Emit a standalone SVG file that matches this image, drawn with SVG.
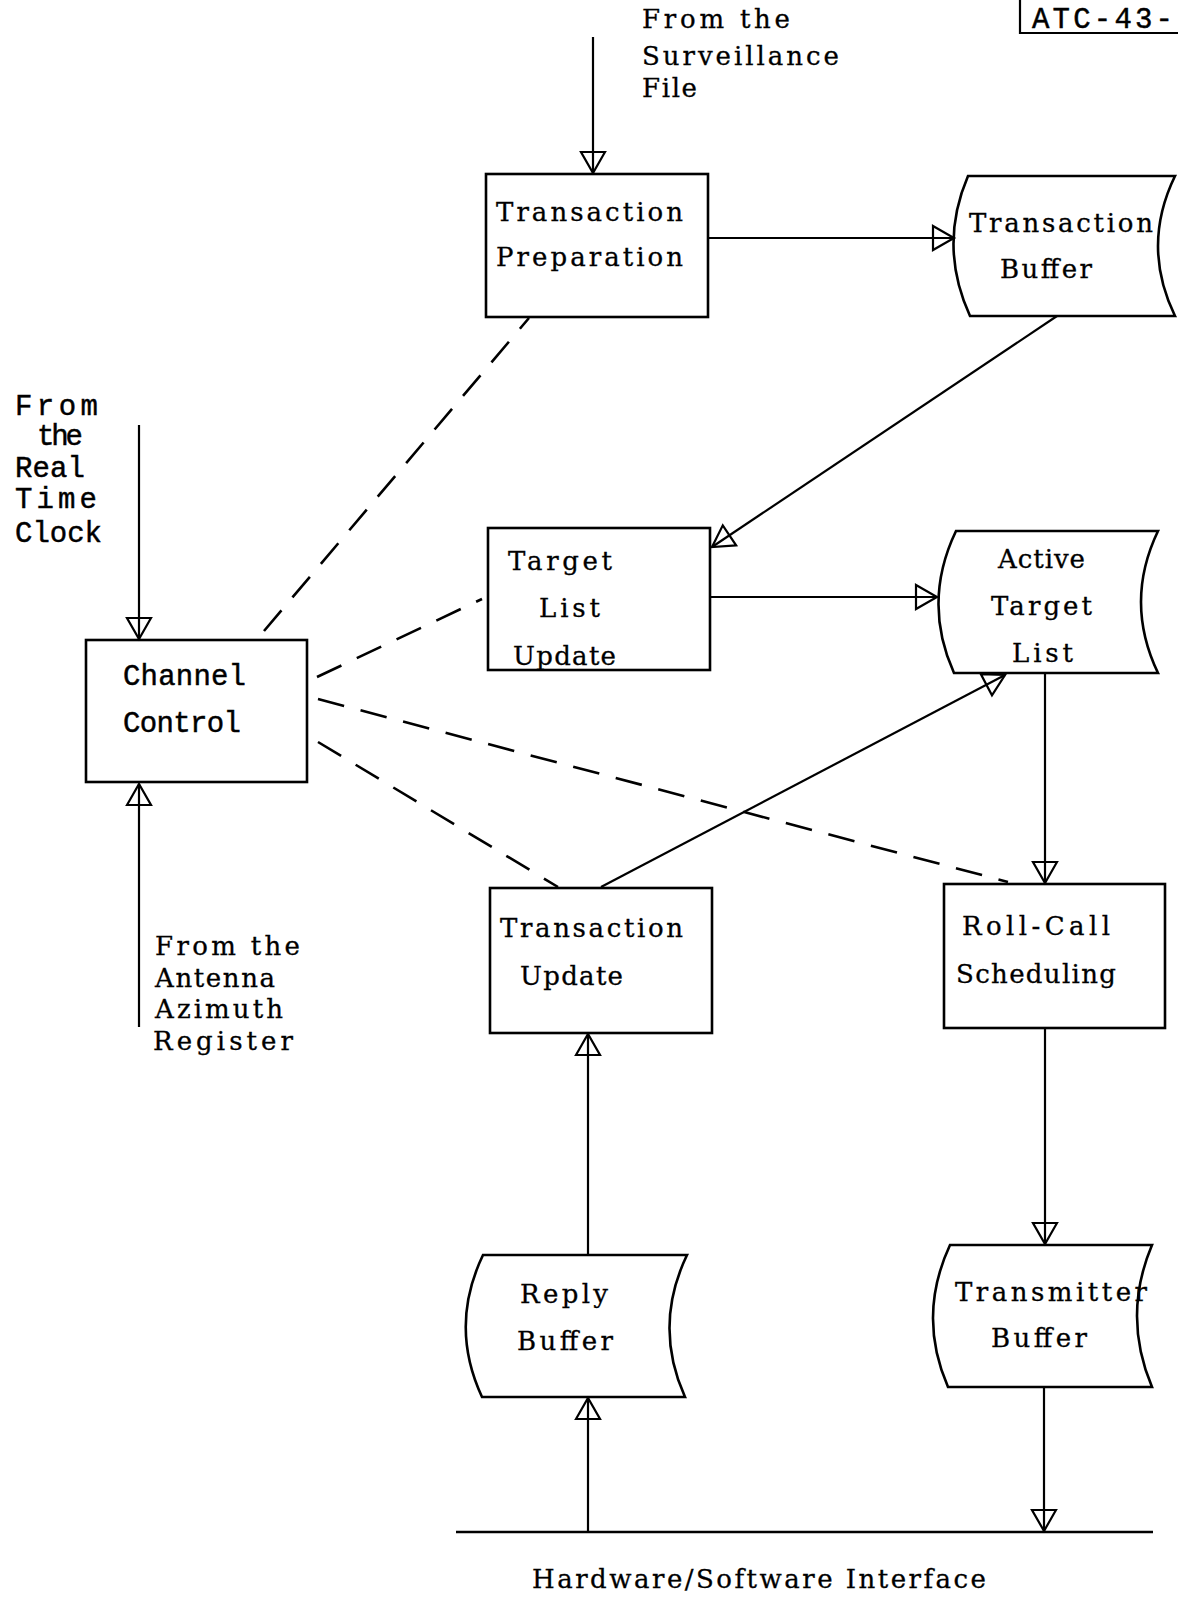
<svg xmlns="http://www.w3.org/2000/svg" width="1178" height="1602" viewBox="0 0 1178 1602">
<style>
.bg{fill:#fff}
.box{fill:none;stroke:#000;stroke-width:2.6}
.ln{fill:none;stroke:#000;stroke-width:2.2}
.dash{fill:none;stroke:#000;stroke-width:2.6;stroke-dasharray:27 17}
.s{font-family:"DejaVu Serif","Liberation Serif",serif;font-size:26px;fill:#000;stroke:#000;stroke-width:0.3}
.m{font-family:"Liberation Mono","Courier New",monospace;font-size:29px;fill:#000;stroke:#000;stroke-width:0.45}
</style>
<defs>
<marker id="arr" markerUnits="userSpaceOnUse" viewBox="-26 -15 30 30" refX="0" refY="0" markerWidth="30" markerHeight="30" orient="auto" overflow="visible">
<path d="M-21,-12 L0,0 L-21,12 Z" fill="none" stroke="#000" stroke-width="2.2"/>
</marker>
</defs>
<rect class="bg" x="0" y="0" width="1178" height="1602"/>

<g id="doc-label">
<path class="ln" d="M1020,0 V33 H1178"/>
<text class="m" x="1032" y="28" textLength="141" lengthAdjust="spacing">ATC-43-</text>
</g>

<g id="connectors">
<line class="ln" x1="593" y1="37" x2="593" y2="173" marker-end="url(#arr)"/>
<line class="ln" x1="139" y1="425" x2="139" y2="639" marker-end="url(#arr)"/>
<line class="ln" x1="139" y1="1027" x2="139" y2="784" marker-end="url(#arr)"/>
<line class="ln" x1="708" y1="238" x2="954" y2="238" marker-end="url(#arr)"/>
<line class="ln" x1="1057" y1="316" x2="712" y2="547" marker-end="url(#arr)"/>
<line class="ln" x1="710" y1="597" x2="937" y2="597" marker-end="url(#arr)"/>
<line class="ln" x1="601" y1="887" x2="1005" y2="675" marker-end="url(#arr)"/>
<line class="ln" x1="1045" y1="673" x2="1045" y2="883" marker-end="url(#arr)"/>
<line class="ln" x1="1045" y1="1028" x2="1045" y2="1244" marker-end="url(#arr)"/>
<line class="ln" x1="1044" y1="1387" x2="1044" y2="1531" marker-end="url(#arr)"/>
<line class="ln" x1="588" y1="1532" x2="588" y2="1398" marker-end="url(#arr)"/>
<line class="ln" x1="588" y1="1255" x2="588" y2="1034" marker-end="url(#arr)"/>
<line class="dash" x1="264" y1="631" x2="529" y2="318"/>
<line class="dash" x1="317" y1="677" x2="482" y2="599"/>
<line class="dash" x1="318" y1="699" x2="1008" y2="882"/>
<line class="dash" x1="318" y1="742" x2="558" y2="887"/>
</g>

<g id="surveillance-label">
<text class="s" x="642" y="28" textLength="148" lengthAdjust="spacing">From the</text>
<text class="s" x="642" y="65" textLength="197" lengthAdjust="spacing">Surveillance</text>
<text class="s" x="642" y="97" textLength="55" lengthAdjust="spacing">File</text>
</g>

<g id="transaction-preparation">
<rect class="box" x="486" y="174" width="222" height="143"/>
<text class="s" x="496" y="221" textLength="187" lengthAdjust="spacing">Transaction</text>
<text class="s" x="496" y="266" textLength="187" lengthAdjust="spacing">Preparation</text>
</g>

<g id="transaction-buffer">
<path class="box" d="M968,176 H1175 Q1141,246 1175,316 H970 Q938,246 968,176 Z"/>
<text class="s" x="969" y="232" textLength="184" lengthAdjust="spacing">Transaction</text>
<text class="s" x="1000" y="278" textLength="92" lengthAdjust="spacing">Buffer</text>
</g>

<g id="rtc-label">
<text class="m" x="15" y="415" textLength="83" lengthAdjust="spacing">From</text>
<text class="m" x="37" y="445" textLength="46" lengthAdjust="spacing">the</text>
<text class="m" x="15" y="477" textLength="70" lengthAdjust="spacing">Real</text>
<text class="m" x="15" y="508" textLength="82" lengthAdjust="spacing">Time</text>
<text class="m" x="15" y="542" textLength="87" lengthAdjust="spacing">Clock</text>
</g>

<g id="channel-control">
<rect class="box" x="86" y="640" width="221" height="142"/>
<text class="m" x="123" y="685" textLength="123" lengthAdjust="spacing">Channel</text>
<text class="m" x="123" y="732" textLength="118" lengthAdjust="spacing">Control</text>
</g>

<g id="antenna-label">
<text class="s" x="155" y="955" textLength="145" lengthAdjust="spacing">From the</text>
<text class="s" x="155" y="987" textLength="120" lengthAdjust="spacing">Antenna</text>
<text class="s" x="155" y="1018" textLength="128" lengthAdjust="spacing">Azimuth</text>
<text class="s" x="153" y="1050" textLength="140" lengthAdjust="spacing">Register</text>
</g>

<g id="target-list-update">
<rect class="box" x="488" y="528" width="222" height="142"/>
<text class="s" x="508" y="570" textLength="104" lengthAdjust="spacing">Target</text>
<text class="s" x="539" y="617" textLength="61" lengthAdjust="spacing">List</text>
<text class="s" x="513" y="665" textLength="103" lengthAdjust="spacing">Update</text>
</g>

<g id="active-target-list">
<path class="box" d="M956,531 H1158 Q1124,602 1158,673 H954 Q922,602 956,531 Z"/>
<text class="s" x="998" y="568" textLength="87" lengthAdjust="spacing">Active</text>
<text class="s" x="991" y="615" textLength="101" lengthAdjust="spacing">Target</text>
<text class="s" x="1012" y="662" textLength="61" lengthAdjust="spacing">List</text>
</g>

<g id="transaction-update">
<rect class="box" x="490" y="888" width="222" height="145"/>
<text class="s" x="500" y="937" textLength="183" lengthAdjust="spacing">Transaction</text>
<text class="s" x="520" y="985" textLength="103" lengthAdjust="spacing">Update</text>
</g>

<g id="roll-call-scheduling">
<rect class="box" x="944" y="884" width="221" height="144"/>
<text class="s" x="962" y="935" textLength="148" lengthAdjust="spacing">Roll-Call</text>
<text class="s" x="956" y="983" textLength="160" lengthAdjust="spacing">Scheduling</text>
</g>

<g id="reply-buffer">
<path class="box" d="M483,1255 H687 Q653,1326 685,1397 H482 Q449,1326 483,1255 Z"/>
<text class="s" x="520" y="1303" textLength="88" lengthAdjust="spacing">Reply</text>
<text class="s" x="517" y="1350" textLength="96" lengthAdjust="spacing">Buffer</text>
</g>

<g id="transmitter-buffer">
<path class="box" d="M950,1245 H1152 Q1122,1316 1152,1387 H948 Q917,1316 950,1245 Z"/>
<text class="s" x="955" y="1301" textLength="192" lengthAdjust="spacing">Transmitter</text>
<text class="s" x="991" y="1347" textLength="96" lengthAdjust="spacing">Buffer</text>
</g>

<g id="hardware-software-interface">
<line class="box" x1="456" y1="1532" x2="1153" y2="1532"/>
<text class="s" x="532" y="1588" textLength="454" lengthAdjust="spacing">Hardware/Software Interface</text>
</g>
</svg>
